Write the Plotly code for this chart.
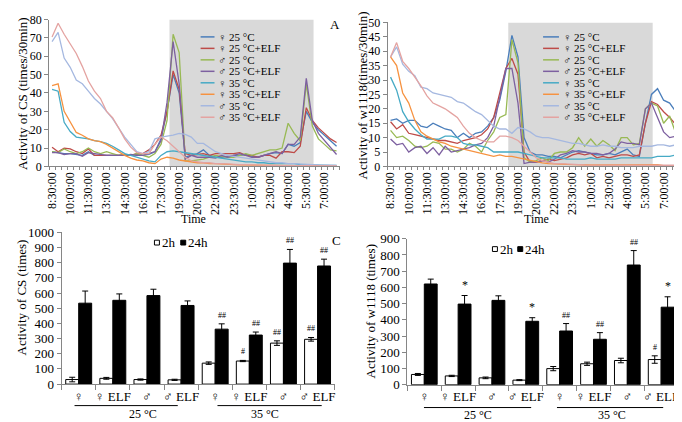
import plotly.graph_objects as go

W, H = 682, 422
FONT = "Liberation Serif, Times New Roman, DejaVu Serif, serif"
AXIS_COLOR = "#868686"
VS = "\uFE0E"  # text presentation selector for the gender symbols

# ---------------- data ----------------
times = ["8:30:00", "9:00:00", "9:30:00", "10:00:00", "10:30:00", "11:00:00", "11:30:00", "12:00:00",
         "12:30:00", "13:00:00", "13:30:00", "14:00:00", "14:30:00", "15:00:00", "15:30:00", "16:00:00",
         "16:30:00", "17:00:00", "17:30:00", "18:00:00", "18:30:00", "19:00:00", "19:30:00", "20:00:00",
         "20:30:00", "21:00:00", "21:30:00", "22:00:00", "22:30:00", "23:00:00", "23:30:00", "0:00:00",
         "0:30:00", "1:00:00", "1:30:00", "2:00:00", "2:30:00", "3:00:00", "3:30:00", "4:00:00",
         "4:30:00", "5:00:00", "5:30:00", "6:00:00", "6:30:00", "7:00:00", "7:30:00", "8:00:00"]

series_names = ["♀" + VS + " 25 °C", "♀" + VS + " 25 °C+ELF", "♂" + VS + " 25 °C", "♂" + VS + " 25 °C+ELF",
                "♀" + VS + " 35 °C", "♀" + VS + " 35 °C+ELF", "♂" + VS + " 35 °C", "♂" + VS + " 35 °C+ELF"]
series_colors = ["#4A7EBB", "#BE4B48", "#98B954", "#7D60A0",
                 "#46AAC5", "#F69240", "#A5B8E0", "#E4A3A1"]

# Panel A: CS activity (times/30min)
cs_f25 = [8, 7.5, 7, 7, 6.5, 6, 8, 6, 6, 6, 6, 6, 6, 6, 6.5, 6, 6.5, 8,
          15, 30, 50, 40,
          5, 6, 7, 9, 6, 5, 5, 5.5, 6, 6, 6.5, 5.5, 5, 6, 7, 7.5, 7, 12, 11, 13, 30, 24, 20, 17, 14, 11]
cs_f25e = [10.5, 8, 10, 9.5, 8, 7, 9.5, 6, 6, 6, 6, 6, 6.5, 6, 7, 7, 9, 12,
           17, 30, 52, 42,
           7, 6, 6.5, 7, 6, 7, 7, 7, 7, 7.5, 6, 6, 5, 6, 6, 4.5, 8, 8, 7.5, 11, 32, 25, 21, 18, 15, 13]
cs_m25 = [8, 7.5, 9.5, 8, 7, 8, 10, 8, 7, 8, 7, 6, 6.5, 6, 7, 6, 5, 7,
          12, 25, 72, 62,
          3, 3, 3.5, 4, 5, 6, 5.5, 5, 5, 6, 7, 6, 7, 8, 9, 9, 10, 23.5, 18, 14, 45, 22, 15, 12, 9, 8.5]
cs_m25e = [7.5, 7.5, 6.5, 7, 7, 5.5, 7.5, 7, 6.5, 6, 6, 6, 6, 6.5, 6, 6, 7, 8,
           14, 35, 68, 45,
           4, 6, 5, 5, 5, 4.5, 6, 5, 6, 7, 6, 5, 5, 6, 7, 8, 7, 12, 12, 16, 48, 25, 18, 14, 10, 6.5]
cs_f35 = [42, 41, 24, 19, 16, 15.5, 15, 14, 13.5, 12.5, 11, 9, 7, 6, 5, 4, 3, 2.5, 6, 8,
          8.5, 8, 7.5, 7, 6.5, 6, 5.5, 5, 4.5, 4, 3.5, 3, 2.5, 2.5, 2, 2, 1.5, 1.5, 1.5, 1.5,
          1.5, 1, 1, 1, 0.8, 0.7, 0.6, 0.5]
cs_f35e = [44, 45, 30, 24, 18.5, 17, 15, 14, 13.5, 12, 10, 8, 6, 4.5, 3.5, 3, 2, 1.5, 4, 5,
           4.5, 3.5, 3, 2.5, 2, 2, 1.5, 1.5, 1.2, 1, 1, 0.8, 0.8, 0.7, 0.6, 0.5, 0.5, 0.5, 0.4, 0.4,
           0.4, 0.3, 0.3, 0.3, 0.3, 0.3, 0.3, 0.3]
cs_m35 = [68, 73, 59, 54, 47, 45, 41, 37, 34, 30, 26, 21, 16, 12, 8, 7, 8, 15, 16, 16.5,
          17, 18, 17.5, 16, 12.5, 12.5, 10, 8, 7, 6, 5.5, 5, 4.5, 4, 3.5, 3, 2.5, 2, 2, 1.5,
          1.5, 1.2, 1, 1, 0.8, 0.7, 0.6, 0.5]
cs_m35e = [70.5, 78, 72, 67, 61.5, 54.5, 46.5, 41, 37, 30, 26.5, 21, 15, 10.5, 7.5, 7, 7, 12, 16, 14,
           11, 8, 5, 3, 2.5, 2, 2, 1.5, 1.5, 1.2, 1, 1, 1, 0.8, 0.8, 0.7, 0.6, 0.5, 0.5, 0.5,
           0.5, 0.4, 0.4, 0.4, 0.3, 0.3, 0.3, 0.3]

# Panel B: w1118 activity (times/30min)
w_f25 = [16, 16.5, 15, 16, 16, 14, 13.5, 15, 14, 13, 12.5, 10, 11.5, 10, 11.5, 12, 14, 17, 23, 33,
         45.5, 38, 10, 5, 4, 4, 3.5, 3.5, 3, 4, 5, 5.5, 5, 4.5, 4, 4, 4.5, 4, 5, 6,
         4, 3.5, 15, 25, 27, 23, 22, 19]
w_f25e = [15.5, 13, 14.5, 11.5, 11, 10.5, 10, 9.5, 9, 9, 8.5, 8, 9, 9.5, 10, 11, 13, 17, 25, 34,
          37.5, 32, 5, 1.5, 1.5, 2, 2.5, 2, 2.5, 3, 4, 4.5, 4, 4.5, 3, 3.5, 3, 3.5, 4, 4,
          3.5, 4, 15, 22.5, 21.5, 19, 17, 14.5]
w_m25 = [12.5, 10, 10.5, 9, 7, 6.5, 7, 8.5, 8, 6, 6, 5, 6, 8, 7, 5, 9, 12, 17, 18,
         44, 36, 3, 1.5, 2, 3, 2, 4.5, 5, 5, 6.5, 10, 7, 9.5, 7, 9, 7.5, 5.5, 10, 10,
         7.5, 8, 20, 22, 21, 15, 17.5, 11.5]
w_m25e = [9.5, 7.5, 8, 5, 6.5, 7, 4.5, 6.5, 4, 7, 5, 5.5, 6, 6.5, 7.5, 8, 10, 14, 24, 34,
          34, 22, 1, 1.5, 1.5, 2, 1.5, 2.5, 4, 4.5, 5.5, 5, 5, 4.5, 4.5, 4, 4.5, 6, 8.5, 8,
          8, 7.5, 20, 22, 17, 12, 10, 10.5]
w_f35 = [31, 26.5, 19, 15.5, 13, 11, 9.5, 9.5, 9.5, 10.5, 10.5, 10, 8, 7.5, 7.5, 7, 6.5, 5, 5, 5,
         5, 5, 4.5, 4, 3.5, 3, 3, 3, 3, 2.5, 2.5, 2.5, 2.5, 3, 2.5, 2.5, 2.5, 2.5, 3, 3,
         3, 3, 3, 3, 3.5, 3.5, 3.5, 4]
w_f35e = [38, 35, 25.5, 22, 16, 12, 10.5, 9.5, 8.5, 8, 7, 6.5, 6, 5.5, 5, 4.5, 4, 3.5, 4, 3.5,
          3.5, 3, 2.5, 2, 1.5, 1.2, 1, 1, 0.8, 0.7, 0.6, 0.5, 0.5, 0.5, 0.5, 0.5, 0.4, 0.4, 0.4, 0.4,
          0.4, 0.4, 0.4, 0.5, 0.6, 0.3, 0.3, 0.3]
w_m35 = [38, 41.5, 35.5, 33, 31.5, 27.5, 27, 25.5, 25, 24.5, 24, 22.5, 22, 20.5, 19, 18, 16, 14, 13, 13,
         11.5, 13.5, 13, 12, 10.5, 10, 10, 9.5, 9, 8.5, 8, 8, 7.5, 7, 7, 7.5, 7, 7, 6.5, 6.5,
         6.5, 7, 7, 7, 7.5, 7.5, 7, 7.5]
w_m35e = [38, 43, 36.5, 34, 31, 28, 24.5, 22, 21, 20, 18.5, 17, 14, 11.5, 10, 9, 8.5, 8.5, 10.5, 10.5,
          10, 9, 7, 5, 3, 2, 1.5, 1, 1, 0.8, 0.7, 0.6, 0.5, 0.5, 0.5, 0.5, 0.4, 0.4, 0.4, 0.4,
          0.4, 0.4, 0.4, 0.4, 0.4, 0.4, 0.4, 0.4]

cs_series = [cs_f25, cs_f25e, cs_m25, cs_m25e, cs_f35, cs_f35e, cs_m35, cs_m35e]
w_series = [w_f25, w_f25e, w_m25, w_m25e, w_f35, w_f35e, w_m35, w_m35e]

# dark phase (category index range)
dark_start, dark_end = 19.4, 43.2

# Panels C / D: total activity (times)
bar_labels = ["♀" + VS, "♀" + VS + " ELF", "♂" + VS, "♂" + VS + " ELF",
              "♀" + VS, "♀" + VS + " ELF", "♂" + VS, "♂" + VS + " ELF"]
bar_groups = ["25 °C"] * 4 + ["35 °C"] * 4
bar_keys = [g + " " + l for g, l in zip(bar_groups, bar_labels)]

cs_2h = [30, 38, 30, 28, 138, 152, 270, 295]
cs_2h_err = [15, 6, 4, 4, 8, 4, 15, 12]
cs_24h = [533, 552, 583, 518, 362, 323, 797, 778]
cs_24h_err = [80, 42, 42, 30, 35, 20, 90, 45]
cs_2h_marks = ["", "", "", "", "", "#", "##", "##"]
cs_24h_marks = ["", "", "", "", "##", "##", "##", "##"]

w_2h = [63, 54, 42, 28, 99, 129, 149, 155]
w_2h_err = [6, 4, 5, 3, 13, 10, 14, 23]
w_24h = [621, 497, 520, 391, 331, 280, 738, 478]
w_24h_err = [30, 53, 28, 22, 46, 41, 89, 64]
w_2h_marks = ["", "", "", "", "", "", "", "#"]
w_24h_marks = ["", "*", "", "*", "##", "##", "##", "*"]


def px(x):
    return x / W


def py(y):
    return 1 - y / H


def tfont(size):
    return dict(family=FONT, size=size, color="black")


fig = go.Figure()

# line panels
for vals_list, xa, ya in [(cs_series, "x", "y"), (w_series, "x2", "y2")]:
    for name, color, vals in zip(series_names, series_colors, vals_list):
        fig.add_trace(go.Scatter(x=times, y=vals, mode="lines", name=name,
                                 line=dict(color=color, width=1.3),
                                 xaxis=xa, yaxis=ya, showlegend=False))

# bar panels
for v2, e2, v24, e24, xa, ya in [(cs_2h, cs_2h_err, cs_24h, cs_24h_err, "x3", "y3"),
                                 (w_2h, w_2h_err, w_24h, w_24h_err, "x4", "y4")]:
    fig.add_trace(go.Bar(x=bar_keys, y=v2, name="2h", xaxis=xa, yaxis=ya, showlegend=False,
                         marker=dict(color="white", line=dict(color="black", width=1)),
                         error_y=dict(type="data", array=e2, color="black", thickness=1, width=3)))
    fig.add_trace(go.Bar(x=bar_keys, y=v24, name="24h", xaxis=xa, yaxis=ya, showlegend=False,
                         marker=dict(color="black", line=dict(color="black", width=1)),
                         error_y=dict(type="data", array=e24, color="black", thickness=1, width=3)))


def base_axis(**kw):
    d = dict(showline=True, linecolor=AXIS_COLOR, linewidth=1, ticks="outside",
             tickcolor=AXIS_COLOR, ticklen=4, showgrid=False, zeroline=False,
             tickfont=tfont(12), fixedrange=True)
    d.update(kw)
    return d


time_ticktext = [t if i % 3 == 0 else "" for i, t in enumerate(times)]

fig.update_layout(
    width=W, height=H, margin=dict(l=0, r=0, t=0, b=0),
    paper_bgcolor="white", plot_bgcolor="white",
    font=dict(family=FONT, color="black"),
    barmode="group", bargap=0.24, bargroupgap=0.0,
    xaxis=base_axis(domain=[px(37.3), px(330)], anchor="y", type="category",
                    tickmode="array", tickvals=times, ticktext=time_ticktext,
                    tickangle=-90, tickson="boundaries", ticklen=3, range=[-0.5, 47.5]),
    yaxis=base_axis(domain=[py(157), py(4.7)], anchor="x", range=[0, 80], dtick=10),
    xaxis2=base_axis(domain=[px(378.3), px(671.7)], anchor="y2", type="category",
                     tickmode="array", tickvals=times, ticktext=time_ticktext,
                     tickangle=-90, tickson="boundaries", ticklen=3, range=[-0.5, 47.5]),
    yaxis2=base_axis(domain=[py(157), py(7.7)], anchor="x2", range=[0, 50], dtick=5),
    xaxis3=base_axis(domain=[px(50), px(325)], anchor="y3", type="category",
                     tickmode="array", tickvals=bar_keys, ticktext=bar_labels, tickangle=0,
                     tickson="boundaries", ticklen=5, tickfont=tfont(13),
                     range=[-0.5, 7.5]),
    yaxis3=base_axis(domain=[py(382.7), py(225.3)], anchor="x3", range=[0, 1000], dtick=100,
                     tickfont=tfont(13)),
    xaxis4=base_axis(domain=[px(398.3), px(671)], anchor="y4", type="category",
                     tickmode="array", tickvals=bar_keys, ticktext=bar_labels, tickangle=0,
                     tickson="boundaries", ticklen=5, tickfont=tfont(13),
                     range=[-0.5, 7.5]),
    yaxis4=base_axis(domain=[py(383.3), py(232)], anchor="x4", range=[0, 900], dtick=100,
                     tickfont=tfont(13)),
)

shapes = []
annotations = []

# dark-phase shading
for xa, ya, ymax in [("x", "y", 80), ("x2", "y2", 50)]:
    shapes.append(dict(type="rect", xref=xa, yref=ya, x0=dark_start, x1=dark_end, y0=0, y1=ymax,
                       fillcolor="#D9D9D9", line=dict(width=0), layer="below"))

# manual line legends
for (lx0, lx1, tx) in [(190, 204, 206), (535, 551, 553)]:
    for k, (name, color) in enumerate(zip(series_names, series_colors)):
        yk = 22.7 + 11.9 * k
        shapes.append(dict(type="line", xref="paper", yref="paper", x0=px(lx0), x1=px(lx1),
                           y0=py(yk), y1=py(yk), line=dict(color=color, width=1.5)))
        annotations.append(dict(text=name, xref="paper", yref="paper", x=px(tx), y=py(yk),
                                xanchor="left", yanchor="middle", showarrow=False,
                                font=tfont(11)))

# bar legends
for (sq1, t1, sq2, t2, yc) in [(143.5, 149, 170, 175.5, 236), (484, 489.5, 509.5, 515, 242.7)]:
    shapes.append(dict(type="rect", xref="paper", yref="paper", x0=px(sq1), x1=px(sq1 + 5),
                       y0=py(yc + 2.5), y1=py(yc - 2.5), fillcolor="white",
                       line=dict(color="black", width=1)))
    shapes.append(dict(type="rect", xref="paper", yref="paper", x0=px(sq2), x1=px(sq2 + 5),
                       y0=py(yc + 2.5), y1=py(yc - 2.5), fillcolor="black",
                       line=dict(color="black", width=1)))
    annotations.append(dict(text="2h", xref="paper", yref="paper", x=px(t1), y=py(yc),
                            xanchor="left", yanchor="middle", showarrow=False, font=tfont(13)))
    annotations.append(dict(text="24h", xref="paper", yref="paper", x=px(t2), y=py(yc),
                            xanchor="left", yanchor="middle", showarrow=False, font=tfont(13)))

# significance marks
for (vals, errs, marks, xa, ya, shift) in [
        (cs_2h, cs_2h_err, cs_2h_marks, "x3", "y3", -6.5),
        (cs_24h, cs_24h_err, cs_24h_marks, "x3", "y3", 6.5),
        (w_2h, w_2h_err, w_2h_marks, "x4", "y4", -6.5),
        (w_24h, w_24h_err, w_24h_marks, "x4", "y4", 6.5)]:
    for key, v, e, m in zip(bar_keys, vals, errs, marks):
        if m:
            annotations.append(dict(text=m, xref=xa, yref=ya, x=key, y=v + e, xshift=shift,
                                    yshift=2, yanchor="bottom", showarrow=False,
                                    font=tfont(8 if "#" in m else 12)))

# group lines and labels under bar panels
for (x0, x1, yl) in [(63, 167, 405), (207, 312, 405), (415, 523, 407), (549, 656, 407)]:
    shapes.append(dict(type="line", xref="paper", yref="paper", x0=px(x0), x1=px(x1),
                       y0=py(yl), y1=py(yl), line=dict(color="black", width=1)))
for (text, xc, yc) in [("25 °C", 132, 414), ("35 °C", 255, 414), ("25 °C", 469, 415), ("35 °C", 604, 415)]:
    annotations.append(dict(text=text, xref="paper", yref="paper", x=px(xc), y=py(yc),
                            xanchor="center", yanchor="middle", showarrow=False, font=tfont(12)))

# axis titles
for (text, xc, yc) in [("Activity of CS (times/30min)", 10, 81),
                       ("Activity of w1118(times/30min)", 353, 83),
                       ("Activity of CS (times)", 10, 293),
                       ("Activity of w1118 (times)", 361, 307)]:
    annotations.append(dict(text=text, xref="paper", yref="paper", x=px(xc), y=py(yc),
                            xanchor="center", yanchor="middle", textangle=-90, showarrow=False,
                            font=tfont(13)))
for xc in [183, 528]:
    annotations.append(dict(text="Time", xref="paper", yref="paper", x=px(xc), y=py(211.5),
                            xanchor="center", yanchor="middle", showarrow=False, font=tfont(12)))

# panel letters
for (text, xc, yc) in [("A", 325, 10), ("B", 671, 8), ("C", 327, 234), ("D", 671, 236)]:
    annotations.append(dict(text=text, xref="paper", yref="paper", x=px(xc), y=py(yc),
                            xanchor="center", yanchor="middle", showarrow=False, font=tfont(13)))

fig.update_layout(shapes=shapes, annotations=annotations)
fig.write_html("out.html")
